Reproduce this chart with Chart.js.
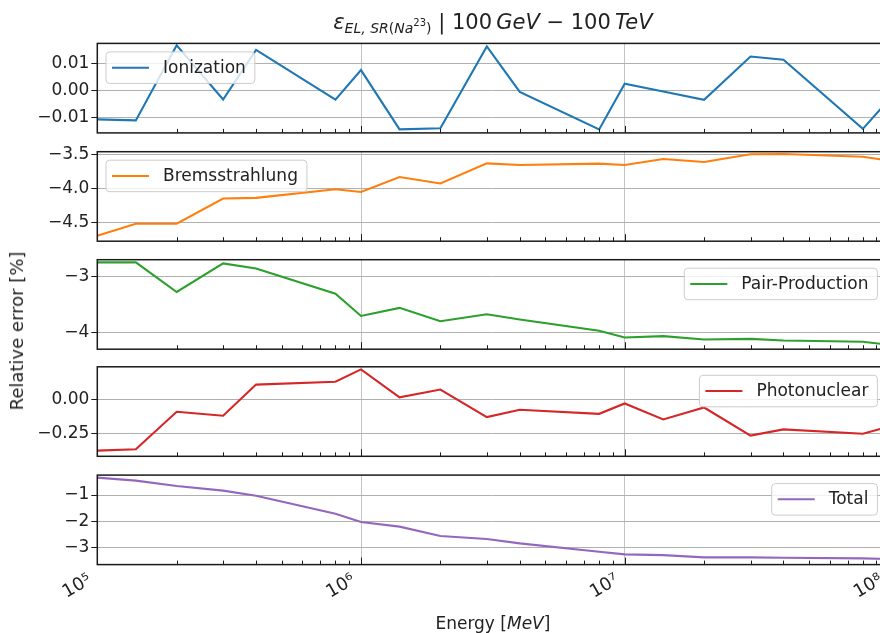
<!DOCTYPE html>
<html>
<head>
<meta charset="utf-8">
<script src="https://cdn.jsdelivr.net/npm/chart.js@4.4.1/dist/chart.umd.min.js"></script>
<style>
  html, body { margin: 0; padding: 0; background: #fff; overflow: hidden; }
  #fig { position: relative; width: 880px; height: 633px; overflow: hidden;
         font-family: "DejaVu Sans", sans-serif; color: #222; }
  .panel { position: absolute; left: 0; width: 900px; }
  .txt { position: absolute; white-space: nowrap; line-height: 1; z-index: 2; }
</style>
</head>
<body>
<div id="fig">
  <div class="txt" id="title" style="left:492.9px; top:12px; transform:translateX(-50%); font-size:21px;">
    <i>ε</i><span style="font-size:14px; position:relative; top:4px;"><i>EL, SR</i>(<i>Na</i><span style="font-size:10px; position:relative; top:-7px;">23</span>)</span> | 100&thinsp;<i>GeV</i> − 100&thinsp;<i>TeV</i>
  </div>
  <div class="txt" id="ylab" style="left:17px; top:331px; transform:translate(-50%,-50%) rotate(-90deg); font-size:18px;">Relative error [%]</div>
  <div class="txt" id="xlab" style="left:492.9px; top:615px; transform:translateX(-50%); font-size:17px;">Energy [<i>MeV</i>]</div>
</div>

<script>
// ── Data ─────────────────────────────────────────────────────
const energy = [1e5, 1.4e5, 2e5, 3e5, 4e5, 8e5, 1e6, 1.4e6, 2e6, 3e6, 4e6, 8e6,
                1e7, 1.4e7, 2e7, 3e7, 4e7, 8e7, 1e8];

const ionization     = [-0.0106, -0.0110, 0.0166, -0.0033, 0.0149, -0.0034, 0.0075, -0.0143, -0.0139, 0.0162,
                        -0.0005, -0.0143, 0.0025, -0.0004, -0.0034, 0.0125, 0.0113, -0.0141, -0.0036];
const bremsstrahlung = [-4.69, -4.515, -4.515, -4.147, -4.137, -4.01, -4.05, -3.833, -3.926, -3.632,
                        -3.657, -3.637, -3.657, -3.569, -3.613, -3.50, -3.495, -3.535, -3.59];
const pairProduction = [-2.754, -2.754, -3.281, -2.772, -2.862, -3.311, -3.707, -3.563, -3.802, -3.677,
                        -3.77, -3.97, -4.09, -4.066, -4.126, -4.114, -4.144, -4.165, -4.22];
const photonuclear   = [-0.373, -0.363, -0.091, -0.120, 0.106, 0.127, 0.216, 0.014, 0.070, -0.130,
                        -0.077, -0.106, -0.031, -0.147, -0.060, -0.264, -0.219, -0.250, -0.20];
const total          = [-0.342, -0.456, -0.658, -0.835, -1.025, -1.709, -2.025, -2.20, -2.557, -2.67,
                        -2.835, -3.15, -3.253, -3.28, -3.367, -3.367, -3.38, -3.405, -3.43];

const seriesNames  = ["Ionization", "Bremsstrahlung", "Pair-Production", "Photonuclear", "Total"];
const seriesValues = [ionization, bremsstrahlung, pairProduction, photonuclear, total];
const seriesColors = ["#1f77b4", "#ff7f0e", "#2ca02c", "#d62728", "#9467bd"];
const legendSide   = ["left", "left", "right", "right", "right"];

const yRanges = [[-0.01559, 0.01732], [-4.770, -3.462], [-4.298, -2.707], [-0.414, 0.235], [-3.64, -0.245]];
const yTicks  = [[-0.01, 0, 0.01], [-4.5, -4.0, -3.5], [-4, -3], [-0.25, 0], [-3, -2, -1]];
const yTickLabels = [["−0.01", "0.00", "0.01"], ["−4.5", "−4.0", "−3.5"], ["−4", "−3"],
                     ["−0.25", "0.00"], ["−3", "−2", "−1"]];

const xTicks      = [1e5, 1e6, 1e7, 1e8];
const xTickLabels = ["10⁵", "10⁶", "10⁷", "10⁸"];

// ── Layout ───────────────────────────────────────────────────
const panelTops = [43.4, 151.7, 259.7, 366.8, 475.1];
const PANEL_H   = 89.5;
const AXIS_LEFT = 97.3;
const AXIS_RIGHT = 888.4;
const CANVAS_W  = 900;
const X_LABEL_H = 50;
const FAM = "'DejaVu Sans', sans-serif";
const FS  = 17;

// inward x ticks + black frame
const framePlugin = {
  id: "frame",
  afterDraw(chart) {
    const { ctx, chartArea: a, scales: { x } } = chart;
    ctx.save();
    ctx.strokeStyle = "#1a1a1a";
    ctx.lineWidth = 1;
    ctx.beginPath();
    for (let d = 5; d <= 8; d++) {
      for (let m = 1; m <= 9; m++) {
        if (d === 8 && m > 1) break;
        const px = Math.round(x.getPixelForValue(m * Math.pow(10, d))) + 0.5;
        const len = m === 1 ? 7 : 4;
        ctx.moveTo(px, a.bottom);
        ctx.lineTo(px, a.bottom - len);
      }
    }
    ctx.stroke();
    ctx.lineWidth = 1.5;
    ctx.strokeRect(a.left, a.top, a.right - a.left, a.bottom - a.top);
    ctx.restore();
  },
};

// matplotlib-like boxed legend inside the axes
const boxLegend = {
  id: "boxLegend",
  afterDraw(chart, args, o) {
    const { ctx, chartArea: a } = chart;
    ctx.save();
    ctx.font = `${FS}px ${FAM}`;
    const tw = ctx.measureText(o.text).width;
    const w = 57 + tw + 9, h = 31.5;
    const bx = o.side === "left" ? a.left + 8.7 : a.right - 11 - w;
    const by = a.top + 8.5;
    ctx.beginPath();
    ctx.roundRect(bx, by, w, h, 3.5);
    ctx.fillStyle = "rgba(255,255,255,0.8)";
    ctx.fill();
    ctx.strokeStyle = "#cccccc";
    ctx.lineWidth = 1;
    ctx.stroke();
    ctx.strokeStyle = o.color;
    ctx.lineWidth = 2;
    ctx.beginPath();
    ctx.moveTo(bx + 6, by + h / 2);
    ctx.lineTo(bx + 43, by + h / 2);
    ctx.stroke();
    ctx.fillStyle = "#222";
    ctx.textBaseline = "middle";
    ctx.fillText(o.text, bx + 57, by + h / 2 + 0.5);
    ctx.restore();
  },
};

const fig = document.getElementById("fig");

seriesNames.forEach((name, i) => {
  const last = i === seriesNames.length - 1;
  const top = panelTops[i];
  const divTop = Math.floor(top) - 14;
  const padTop = top - divTop;
  const xH = last ? X_LABEL_H : 0;
  const divH = Math.ceil(padTop + PANEL_H + xH + (last ? 4 : 14));
  const padBottom = divH - padTop - PANEL_H - xH;

  const div = document.createElement("div");
  div.className = "panel";
  div.style.top = divTop + "px";
  div.style.height = divH + "px";
  const canvas = document.createElement("canvas");
  div.appendChild(canvas);
  fig.appendChild(div);

  new Chart(canvas, {
    type: "line",
    data: {
      datasets: [{
        label: name,
        data: energy.map((e, k) => ({ x: e, y: seriesValues[i][k] })),
        borderColor: seriesColors[i],
        borderWidth: 2.1,
        pointRadius: 0,
        tension: 0,
        fill: false,
      }],
    },
    options: {
      responsive: true,
      maintainAspectRatio: false,
      animation: false,
      devicePixelRatio: 1,
      layout: { padding: { top: padTop, bottom: padBottom, left: 0, right: CANVAS_W - AXIS_RIGHT } },
      plugins: {
        legend: { display: false },
        tooltip: { enabled: false },
        boxLegend: { text: name, color: seriesColors[i], side: legendSide[i] },
      },
      scales: {
        x: {
          type: "logarithmic",
          min: 1e5,
          max: 1e8,
          afterBuildTicks: (s) => { s.ticks = xTicks.map((v) => ({ value: v })); },
          afterFit: (s) => { s.height = xH; s.paddingLeft = 0; s.paddingRight = 0; },
          ticks: {
            display: last,
            autoSkip: false,
            minRotation: 30,
            maxRotation: 30,
            padding: 5,
            labelOffset: -7,
            color: "#222",
            font: { family: FAM, size: 18 },
            callback: (v, k) => xTickLabels[k],
          },
          grid: { color: "#c4c4c4", lineWidth: 1, drawTicks: false },
          border: { display: false },
        },
        y: {
          type: "linear",
          min: yRanges[i][0],
          max: yRanges[i][1],
          afterBuildTicks: (s) => { s.ticks = yTicks[i].map((v) => ({ value: v })); },
          afterFit: (s) => { s.width = AXIS_LEFT; },
          ticks: {
            padding: 2,
            color: "#222",
            font: { family: FAM, size: FS },
            callback: (v, k) => yTickLabels[i][k],
          },
          grid: { color: "#b0b0b0", lineWidth: 1, drawTicks: true, tickLength: 6, tickColor: "#1a1a1a", tickWidth: 1 },
          border: { display: false },
        },
      },
    },
    plugins: [framePlugin, boxLegend],
  });
});
</script>
</body>
</html>
